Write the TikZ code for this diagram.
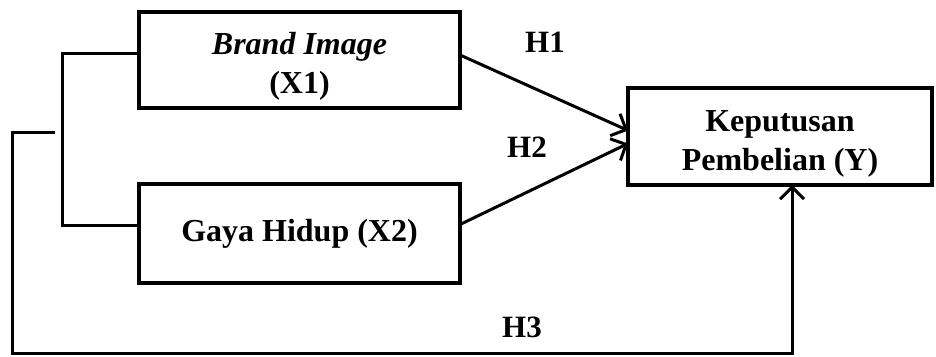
\documentclass[tikz,border=0pt]{standalone}
\usepackage{fontspec}
\setmainfont{Liberation Serif}
\usetikzlibrary{arrows.meta}
\newcommand{\lowerstrut}{\rule{0pt}{35pt}}
\tikzset{
  varbox/.style={draw=black,line width=3.6pt,minimum width=321pt,
    align=center,font=\fontsize{32}{39}\selectfont\bfseries},
  hlabel/.style={font=\fontsize{31}{36}\selectfont\bfseries},
  link/.style={draw=black,line width=3pt},
  arr/.style={link,-{Straight Barb[length=12pt,width=24pt,line width=3pt]}}
}
\begin{document}
\begin{tikzpicture}[y=-1pt,x=1pt,inner sep=0pt,outer sep=0pt]
  \useasboundingbox (0,0) rectangle (936,356);
  \node[varbox,minimum height=96pt] (x1) at (299.5,60.0)
    {\lowerstrut\textit{Brand Image}\\(X1)};
  \node[varbox,minimum height=99pt] (x2) at (299.5,233.5)
    {Gaya Hidup (X2)};
  \node[varbox,minimum width=304pt,minimum height=97pt] (y) at (780.0,136.5)
    {\lowerstrut Keputusan\\Pembelian (Y)};
  % bracket joining the two independent variables
  \coordinate (br) at (62,53);
  \coordinate (fb) at (55,132);
  \coordinate (fbl) at (12,353);
  \path[link] ([yshift=7pt]x1.west) -- (br) |- ([yshift=8pt]x2.west);
  % hypotheses
  \path[arr] ([yshift=5pt]x1.east) -- ([yshift=6pt]y.west);
  \path[arr] ([yshift=9pt]x2.east) -- ([yshift=-7pt]y.west);
  \path[arr] (fb) -| (fbl) -| ([xshift=12pt]y.south);
  \node[hlabel] (h1) at (545,42) {H1};
  \node[hlabel] (h2) at (527,147) {H2};
  \node[hlabel] (h3) at (522,327) {H3};
\end{tikzpicture}
\end{document}
